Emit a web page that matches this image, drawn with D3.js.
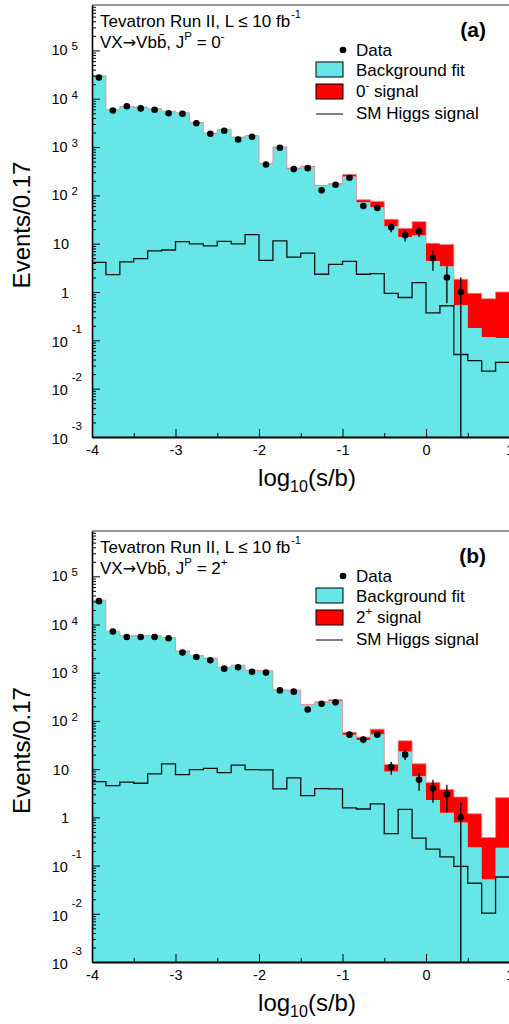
<!DOCTYPE html>
<html>
<head>
<meta charset="utf-8">
<script src="https://cdn.jsdelivr.net/npm/d3@7"></script>
<style>
body { margin: 0; background: #fff; }
svg { display: block; font-family: "Liberation Sans", Arial, Helvetica, sans-serif; }
</style>
</head>
<body>
<svg id="chart" width="509" height="1024"></svg>
<script>
// binning of log10(s/b)
var nBins = 30, xMin = -4, xMax = 1
var xTicks = [-4, -3, -2, -1, 0, 1]
var xMinorTicks = [-3.5, -2.5, -1.5, -0.5, 0.5]
var yTicks = [1e-3, 1e-2, 1e-1, 1, 10, 1e2, 1e3, 1e4, 1e5]
var yDomain = [1e-3, 8.7e5]

// panel (a): 0- hypothesis
var bgA = [30000, 6000, 6900, 6700, 6200, 5500, 5100, 3200, 1940, 2300, 1600, 1710, 452, 995, 362,
           385, 157, 170, 247, 72, 57, 23, 13.7, 14.7, 4.4, 3.4, 0.53, 0.18, 0.118, 0.112]
var sigA = [30, 20, 25, 25, 25, 25, 25, 20, 15, 18, 15, 16, 6, 12, 6,
            12, 3, 5, 25, 9, 18, 9, 7.1, 13.9, 5.8, 6.2, 1.31, 0.76, 0.61, 0.89]
var dataA = [27500, 5700, 7000, 6300, 5900, 5000, 4900, 3100, 1880, 2170, 1435, 1630, 437, 966, 350,
             366, 127, 166, 232, 60, 55, 22, 15, 18, 5, 2, 1, null, null, null]
var higgsA = [4.1, 2.3, 4.2, 4.9, 7.1, 7.4, 11.0, 9.9, 9.0, 11.2, 9.9, 15.4, 4.5, 11.4, 5.3,
              6.4, 2.33, 3.75, 4.3, 2.33, 2.4, 0.94, 0.77, 1.57, 0.37, 0.52, 0.051, 0.038, 0.023, 0.035]

// panel (b): 2+ hypothesis
var bgB = [32000, 7260, 5800, 5800, 5800, 5350, 2820, 2270, 2000, 1295, 1425, 1122, 1086, 438, 430,
           217, 245, 263, 51.6, 40, 53, 8.9, 23.2, 7.1, 2.3, 1.25, 0.78, 0.24, 0.052, 0.234]
var sigB = [30, 20, 20, 20, 20, 20, 15, 15, 12, 10, 10, 9, 8, 5, 5,
            3, 4, 12, 6.1, 6, 14.6, 3.6, 15.5, 5.8, 3.0, 2.55, 1.87, 0.95, 0.33, 2.34]
var dataB = [30500, 7150, 5520, 5520, 5520, 5190, 2620, 2120, 1810, 1216, 1295, 1050, 1005, 430, 405,
             173, 227, 243, 52, 41, 52, 11, 20, 6, 4, 3, 1, null, null, null]
var higgsB = [5.5, 4.56, 5.4, 5.1, 8.0, 12.9, 7.7, 9.8, 10.4, 8.5, 12.1, 9.8, 9.7, 3.9, 6.6,
              2.83, 3.95, 3.9, 1.57, 1.49, 1.9, 0.46, 1.47, 0.37, 0.22, 0.152, 0.096, 0.043, 0.0103, 0.058]

var cyan = "#66e6e6", red = "#ff0000"
var left = 92, right = 509.5

var svg = d3.select("#chart")

function drawPanel(cfg) {
  var g = svg.append("g")
  var x = d3.scaleLinear().domain([xMin, xMax]).range([left, right])
  var y = d3.scaleLog().domain(yDomain).range([cfg.bottom, cfg.top]).clamp(true)
  var w = (xMax - xMin) / nBins

  var bins = d3.range(nBins).map(function(i) {
    return {lo: xMin + i * w, mid: xMin + (i + 0.5) * w, bg: cfg.bg[i], sig: cfg.sig[i],
            higgs: cfg.higgs[i], data: cfg.data[i]}
  })
  // step points, with a closing point at the last edge
  function steps(f) {
    var pts = bins.map(function(b) { return [b.lo, f(b), b] })
    pts.push([xMax, f(bins[nBins - 1]), bins[nBins - 1]])
    return pts
  }

  g.append("clipPath").attr("id", "clip" + cfg.tag)
    .append("rect").attr("x", left).attr("y", cfg.top)
    .attr("width", right - left).attr("height", cfg.bottom - cfg.top)
  var plot = g.append("g").attr("clip-path", "url(#clip" + cfg.tag + ")")

  // background fit
  plot.append("path")
    .datum(steps(function(b) { return b.bg }))
    .attr("d", d3.area().curve(d3.curveStepAfter)
      .x(function(d) { return x(d[0]) })
      .y0(cfg.bottom)
      .y1(function(d) { return y(d[1]) }))
    .attr("fill", cyan)

  // signal stacked on background
  plot.append("path")
    .datum(steps(function(b) { return b.bg + b.sig }))
    .attr("d", d3.area().curve(d3.curveStepAfter)
      .x(function(d) { return x(d[0]) })
      .y0(function(d) { return y(d[2].bg) })
      .y1(function(d) { return y(d[1]) }))
    .attr("fill", red)

  plot.append("path")
    .datum(steps(function(b) { return b.bg + b.sig }))
    .attr("d", d3.line().curve(d3.curveStepAfter)
      .x(function(d) { return x(d[0]) })
      .y(function(d) { return y(d[1]) }))
    .attr("fill", "none").attr("stroke", "#e08a8a").attr("stroke-width", 0.8)

  // SM Higgs
  plot.append("path")
    .datum(steps(function(b) { return b.higgs }))
    .attr("d", d3.line().curve(d3.curveStepAfter)
      .x(function(d) { return x(d[0]) })
      .y(function(d) { return y(d[1]) }))
    .attr("fill", "none").attr("stroke", "#111").attr("stroke-width", 1.3)

  // data with poisson errors
  var pts = bins.filter(function(b) { return b.data != null })
  plot.selectAll(".err").data(pts).enter().append("line")
    .attr("class", "err")
    .attr("x1", function(d) { return x(d.mid) })
    .attr("x2", function(d) { return x(d.mid) })
    .attr("y1", function(d) { return y(d.data + Math.sqrt(d.data)) })
    .attr("y2", function(d) { var lo = d.data - Math.sqrt(d.data); return lo > 0 ? y(lo) : cfg.bottom })
    .attr("stroke", "#000").attr("stroke-width", 1.3)
  plot.selectAll(".dot").data(pts).enter().append("circle")
    .attr("class", "dot")
    .attr("cx", function(d) { return x(d.mid) })
    .attr("cy", function(d) { return y(d.data) })
    .attr("r", 3.3).attr("fill", "#000")

  // frame top
  g.append("line").attr("x1", left).attr("x2", right).attr("y1", cfg.top).attr("y2", cfg.top)
    .attr("stroke", "#333").attr("stroke-width", 1)

  // axes, ticks inside the frame
  var yMinor = []
  d3.range(-3, 6).forEach(function(e) {
    d3.range(2, 10).forEach(function(k) {
      var v = k * Math.pow(10, e)
      if (v < yDomain[1]) yMinor.push(v)
    })
  })
  g.append("g").attr("transform", "translate(" + left + ",0)")
    .call(d3.axisLeft(y).tickValues(yMinor).tickSize(-4).tickSizeOuter(0).tickFormat(""))
    .call(function(a) { a.select(".domain").remove() })
  var yAx = g.append("g").attr("transform", "translate(" + left + ",0)")
    .call(d3.axisLeft(y).tickValues(yTicks).tickSize(-8).tickSizeOuter(0).tickFormat(""))
  yAx.select(".domain").attr("stroke-width", 1.6)
  g.selectAll(".tick line").attr("stroke-width", 1)

  g.append("g").attr("transform", "translate(0," + cfg.bottom + ")")
    .call(d3.axisBottom(x).tickValues(xMinorTicks).tickSize(-4).tickSizeOuter(0).tickFormat(""))
    .call(function(a) { a.select(".domain").remove() })
  var xAx = g.append("g").attr("transform", "translate(0," + cfg.bottom + ")")
    .call(d3.axisBottom(x).tickValues(xTicks).tickSize(-8).tickSizeOuter(0).tickPadding(8)
      .tickFormat(function(d) { return String(d) }))
  xAx.select(".domain").attr("stroke-width", 2)
  xAx.selectAll("text").attr("font-size", 14.5).attr("fill", "#000")
    .attr("font-family", "Liberation Sans, Arial, sans-serif")

  // y tick labels 10^n
  yTicks.forEach(function(v) {
    var e = Math.round(Math.log10(v))
    var ty = y(v)
    if (e === 0 || e === 1) {
      g.append("text").attr("x", 69).attr("y", ty + 5.5).attr("text-anchor", "end")
        .attr("font-size", 14.5).text(e === 0 ? "1" : "10")
    } else {
      var t = g.append("text").attr("x", e < 0 ? 82 : 78).attr("y", ty + (e < 0 ? 6.8 : 5))
        .attr("text-anchor", "end").attr("font-size", 14.5)
      t.append("tspan").text("10")
      t.append("tspan").attr("dx", 4).attr("dy", e < 0 ? -14 : -5).attr("font-size", 11.5).text(String(e))
    }
  })

  // axis titles
  var xt = g.append("text").attr("x", 307).attr("y", cfg.bottom + 49)
    .attr("text-anchor", "middle").attr("font-size", 24)
  xt.append("tspan").text("log")
  xt.append("tspan").attr("dy", 6).attr("font-size", 16).text("10")
  xt.append("tspan").attr("dy", -6).text("(s/b)")

  g.append("text")
    .attr("transform", "translate(30," + ((cfg.top + cfg.bottom) / 2 + 4) + ") rotate(-90)")
    .attr("text-anchor", "middle").attr("font-size", 24).text("Events/0.17")

  // header
  var h1 = g.append("text").attr("x", 100).attr("y", cfg.top + 22).attr("font-size", 17)
  h1.append("tspan").text("Tevatron Run II, L \u2264 10 fb")
  h1.append("tspan").attr("dy", -9).attr("dx", 1).attr("font-size", 11).text("-1")
  var h2 = g.append("text").attr("x", 100).attr("y", cfg.top + 43).attr("font-size", 17)
  h2.append("tspan").text("VX")
  h2.append("tspan").attr("font-family", "DejaVu Sans").attr("font-size", 16).text("\u2192")
  h2.append("tspan").text("Vbb\u0304, J")
  h2.append("tspan").attr("dy", -8).attr("font-size", 11.5).text("P")
  h2.append("tspan").attr("dy", 8).text(" = " + cfg.spin)
  h2.append("tspan").attr("dy", -8).attr("font-size", 11.5).text(cfg.parity)

  g.append("text").attr("x", 486).attr("y", cfg.top + 32).attr("text-anchor", "end")
    .attr("font-size", 21).attr("font-weight", "bold").text("(" + cfg.tag + ")")

  // legend
  var lx = 316, lw = 27, tx = 356, t0 = cfg.top
  g.append("circle").attr("cx", lx + lw).attr("cy", t0 + 45).attr("r", 3.3).attr("fill", "#000")
  g.append("text").attr("x", tx).attr("y", t0 + 51).attr("font-size", 17).text("Data")
  g.append("rect").attr("x", lx).attr("y", t0 + 57).attr("width", lw).attr("height", 15)
    .attr("fill", cyan).attr("stroke", "#000").attr("stroke-width", 1)
  g.append("text").attr("x", tx).attr("y", t0 + 71).attr("font-size", 17).text("Background fit")
  g.append("rect").attr("x", lx).attr("y", t0 + 79).attr("width", lw).attr("height", 15)
    .attr("fill", red).attr("stroke", "#000").attr("stroke-width", 1)
  var ls = g.append("text").attr("x", tx).attr("y", t0 + 92).attr("font-size", 17)
  ls.append("tspan").text(cfg.spin)
  ls.append("tspan").attr("dy", -8).attr("font-size", 11.5).text(cfg.parity)
  ls.append("tspan").attr("dy", 8).text(" signal")
  g.append("line").attr("x1", lx).attr("x2", lx + lw).attr("y1", t0 + 109).attr("y2", t0 + 109)
    .attr("stroke", "#000").attr("stroke-width", 1)
  g.append("text").attr("x", tx).attr("y", t0 + 114).attr("font-size", 17).text("SM Higgs signal")
}

drawPanel({tag: "a", top: 5, bottom: 437, bg: bgA, sig: sigA, data: dataA, higgs: higgsA, spin: "0", parity: "-"})
drawPanel({tag: "b", top: 531, bottom: 962, bg: bgB, sig: sigB, data: dataB, higgs: higgsB, spin: "2", parity: "+"})
</script>
</body>
</html>
